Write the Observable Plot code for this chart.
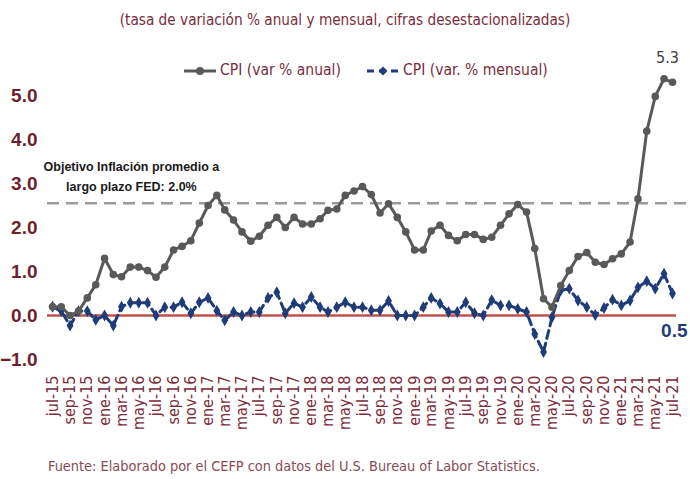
<!DOCTYPE html>
<html>
<head>
<meta charset="utf-8">
<script src="https://cdn.jsdelivr.net/npm/d3@7"></script>
<script src="https://cdn.jsdelivr.net/npm/@observablehq/plot@0.6"></script>
<style>
  body { margin: 0; background: #fff; width: 690px; height: 479px; overflow: hidden; }
  #wrap { position: relative; width: 690px; height: 479px; }
  #subtitle { height: 40px; line-height: 40px; text-align: center; color: #7b2d3b;
    font-family: "DejaVu Sans Condensed", "DejaVu Sans", sans-serif; font-stretch: condensed; font-size: 15.2px; }
  #legend { position: absolute; top: 60px; left: 0; width: 690px; height: 20px; color: #7b2d3b;
    font-family: "DejaVu Sans Condensed", "DejaVu Sans", sans-serif; font-stretch: condensed; font-size: 15.5px; }
  #legend .item { position: absolute; top: 0; height: 20px; line-height: 20px; white-space: nowrap; }
  #legend svg { vertical-align: middle; margin-right: 4px; }
  #caption { height: 39px; box-sizing: border-box; line-height: 52px; padding-left: 48px; color: #8a4a56;
    font-family: "DejaVu Sans Condensed", "DejaVu Sans", sans-serif; font-stretch: condensed; font-size: 14.4px; white-space: nowrap; }
</style>
</head>
<body>
<div id="wrap">
  <div id="subtitle">(tasa de variación % anual y mensual, cifras desestacionalizadas)</div>
  <div id="chart"></div>
  <div id="caption">Fuente: Elaborado por el CEFP con datos del U.S. Bureau of Labor Statistics.</div>
  <div id="legend"></div>
</div>
<script>
// ---- Data (jul-15 .. jul-21, monthly) ----
const startYear = 2015, startMonth = 6; // July 2015
const anual = [
  0.2, 0.2, 0.0, 0.1, 0.4, 0.7,
  1.3, 0.93, 0.88, 1.1, 1.1, 1.02, 0.87, 1.1, 1.49, 1.57, 1.7, 2.1,
  2.5, 2.73, 2.4, 2.17, 1.9, 1.69, 1.8, 2.05, 2.23, 2.0, 2.23, 2.08,
  2.08, 2.2, 2.39, 2.42, 2.73, 2.83, 2.93, 2.75, 2.33, 2.54, 2.23, 1.9,
  1.49, 1.49, 1.92, 2.05, 1.82, 1.7, 1.84, 1.84, 1.73, 1.78, 2.05, 2.31,
  2.52, 2.35, 1.52, 0.38, 0.19, 0.68, 1.02, 1.34, 1.43, 1.21, 1.16, 1.29,
  1.4, 1.67, 2.65, 4.19, 4.98, 5.38, 5.3
];
const mensual = [
  0.2, 0.1, -0.23, 0.1, 0.1, -0.1,
  0.0, -0.23, 0.2, 0.29, 0.29, 0.29, 0.0, 0.19, 0.19, 0.3, 0.05, 0.3,
  0.4, 0.11, -0.11, 0.08, 0.0, 0.08, 0.08, 0.4, 0.53, 0.05, 0.28, 0.19,
  0.42, 0.19, 0.08, 0.19, 0.3, 0.19, 0.19, 0.12, 0.12, 0.33, 0.0, 0.0,
  0.0, 0.19, 0.4, 0.27, 0.08, 0.08, 0.3, 0.05, 0.0, 0.35, 0.23, 0.23,
  0.15, 0.08, -0.42, -0.83, -0.04, 0.57, 0.61, 0.34, 0.19, 0.01, 0.17, 0.36,
  0.23, 0.34, 0.64, 0.78, 0.61, 0.95, 0.5
];
const yTicks = [-1, 0, 1, 2, 3, 4, 5];
const mesesES = ["ene","feb","mar","abr","may","jun","jul","ago","sep","oct","nov","dic"];
const metaFED = 2.55; // dashed reference line as drawn
const notaFED = "Objetivo Inflación promedio a\nlargo plazo FED: 2.0%";
const labelAnual = "5.3", labelMensual = "0.5";
const legendItems = ["CPI (var % anual)", "CPI (var. % mensual)"];

// ---- Build table ----
const data = anual.map((v, i) => ({
  date: new Date(Date.UTC(startYear, startMonth + i, 1)),
  anual: v,
  mensual: mensual[i]
}));
const first = data[0].date, last = data[data.length - 1].date;
const xTicks = d3.utcMonth.every(2).range(first, d3.utcDay.offset(last, 1));
const fmtX = d => mesesES[d.getUTCMonth()] + "-" + String(d.getUTCFullYear()).slice(2);

const GRAY = "#595959", NAVY = "#1f3c78", MAROON = "#6e1f2e", RED = "#c0504d";
const FONT = "'DejaVu Sans Condensed', 'DejaVu Sans', sans-serif";
const NARROW = "'Liberation Sans Narrow', 'Liberation Sans', sans-serif";

const chart = Plot.plot({
  width: 690,
  height: 400,
  marginLeft: 52,
  marginRight: 18,
  marginTop: 33,
  marginBottom: 81,
  style: { background: "transparent", overflow: "visible" },
  x: { type: "utc", domain: [first, last] },
  y: { domain: [-1, 5.5] },
  marks: [
    Plot.axisY({ ticks: yTicks, tickFormat: d3.format(".1f"), tickSize: 0, tickPadding: 15, label: null,
      fontSize: 19, fontWeight: "bold", fontFamily: NARROW, color: MAROON }),
    Plot.axisX({ ticks: xTicks, tickFormat: fmtX, tickRotate: -90, tickSize: 0, tickPadding: 16, label: null,
      fontSize: 16, fontFamily: FONT, color: "#7b2d3b" }),
    Plot.ruleY([metaFED], { stroke: "#9a9a9a", strokeWidth: 2.5, strokeDasharray: "12,7", insetLeft: -5, insetRight: -16 }),
    Plot.ruleY([0], { stroke: RED, strokeWidth: 2.5, insetLeft: -5, insetRight: -4 }),
    Plot.text([notaFED], { x: () => new Date(Date.UTC(2016, 3, 5)), y: () => metaFED, text: d => d, lineAnchor: "bottom", dy: -12,
      fontSize: 12.5, fontWeight: "bold", fontFamily: "'Liberation Sans', sans-serif", fill: "#1a1a1a", lineHeight: 1.6 }),
    Plot.lineY(data, { x: "date", y: "mensual", stroke: NAVY, strokeWidth: 3, strokeDasharray: "8,5" }),
    Plot.dot(data, { x: "date", y: "mensual", symbol: "diamond", r: 3.6, fill: NAVY }),
    Plot.lineY(data, { x: "date", y: "anual", stroke: GRAY, strokeWidth: 3 }),
    Plot.dot(data, { x: "date", y: "anual", r: 3.8, fill: GRAY }),
    Plot.text([data[data.length - 1]], { x: "date", y: "anual", text: () => labelAnual, dx: -5, dy: -24,
      fontSize: 16, fontFamily: FONT, fill: "#404040" }),
    Plot.text([data[data.length - 1]], { x: "date", y: "mensual", text: () => labelMensual, dx: 15, dy: 37, textAnchor: "end",
      fontSize: 19, fontWeight: "bold", fontFamily: NARROW, fill: NAVY })
  ]
});
document.getElementById("chart").appendChild(chart);

// ---- Legend ----
const legend = document.getElementById("legend");
const sw1 = `<svg width="32" height="12"><line x1="0" y1="6" x2="32" y2="6" stroke="${GRAY}" stroke-width="3"/><circle cx="16" cy="6" r="4" fill="${GRAY}"/></svg>`;
const sw2 = `<svg width="32" height="12"><line x1="0" y1="6" x2="32" y2="6" stroke="${NAVY}" stroke-width="3" stroke-dasharray="7,5"/><path d="M16,1.5L20.5,6L16,10.5L11.5,6Z" fill="${NAVY}"/></svg>`;
legend.innerHTML = `<div class="item" style="left:184px">${sw1}${legendItems[0]}</div>` +
                   `<div class="item" style="left:367px">${sw2}${legendItems[1]}</div>`;
</script>
</body>
</html>
